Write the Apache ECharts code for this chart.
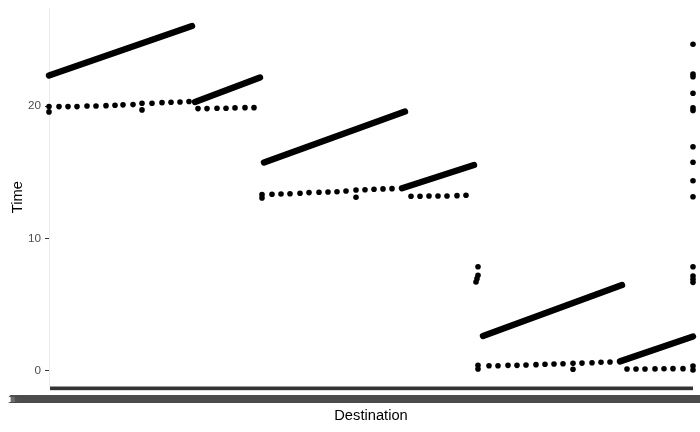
<!DOCTYPE html>
<html><head><meta charset="utf-8">
<script src="https://cdn.jsdelivr.net/npm/echarts@6/dist/echarts.min.js"></script>
<style>html,body{margin:0;padding:0;background:#fff}#c{width:700px;height:432px}</style>
</head><body><div id="c"></div>
<script>
// Destination index (category position 0..644) and Time values
const destCount = 645;
const yTicks = [0, 10, 20];

// dense runs of points (one point per destination), given by their first and last point
const runDestStart = [0, 146, 215, 353, 434, 571];
const runDestEnd   = [143, 211, 356, 425, 573, 644];
const runTimeStart = [22.3, 20.3, 15.73, 13.78, 2.62, 0.7];
const runTimeEnd   = [26.04, 22.15, 19.58, 15.54, 6.47, 2.58];

// individual points
const pointDest = [
  0,0,10,19,28,38,47,57,66,74,84,93,93,103,113,122,131,140,
  149,158,168,177,186,196,205,
  213,213,223,232,241,251,260,270,279,288,297,307,307,316,325,334,343,
  362,371,380,389,398,408,417,
  429,429,440,449,459,468,477,487,496,505,514,524,524,533,543,552,561,
  578,587,596,606,615,624,634,
  429,429,428,427,
  644,644,644,644,644,644,644,644,644,644,644,644,644,644,644,644
];
const pointTime = [
  19.95,19.55,19.95,19.95,19.95,20.0,20.0,20.02,20.05,20.08,20.1,20.2,19.7,20.2,20.25,20.28,20.3,20.33,
  19.8,19.8,19.82,19.83,19.85,19.87,19.87,
  13.3,13.05,13.33,13.35,13.37,13.4,13.45,13.48,13.5,13.52,13.57,13.65,13.1,13.67,13.7,13.73,13.75,
  13.18,13.18,13.2,13.2,13.2,13.22,13.25,
  0.4,0.12,0.37,0.37,0.4,0.4,0.42,0.45,0.48,0.5,0.52,0.55,0.1,0.57,0.6,0.63,0.65,
  0.12,0.12,0.12,0.13,0.14,0.15,0.15,
  7.85,7.2,6.95,6.7,
  24.66,22.4,22.2,20.96,19.85,19.65,16.92,15.74,14.35,13.14,7.85,7.15,6.9,6.67,0.35,0.05
];

const FONT = 'Liberation Sans, Arial, sans-serif';
const chart = echarts.init(document.getElementById('c'), null, {renderer: 'canvas'});

const runSeries = runDestStart.map((d, i) => ({
  type: 'line',
  data: [[d, runTimeStart[i]], [runDestEnd[i], runTimeEnd[i]]],
  symbol: 'none',
  clip: true,
  lineStyle: {color: '#000', width: 6.4, cap: 'round'},
  silent: true,
  z: 3
}));

chart.setOption({
  animation: false,
  backgroundColor: '#ffffff',
  grid: {left: 49, right: 7, top: 8, bottom: 45.5, containLabel: false, outerBoundsMode: 'none'},
  xAxis: {
    type: 'value', min: 0, max: destCount - 1, interval: 1,
    name: 'Destination', nameLocation: 'middle', nameGap: 22, nameMoveOverlap: false,
    nameTextStyle: {color: '#000', fontSize: 14.7, fontFamily: FONT},
    axisLine: {show: false, onZero: false},
    axisTick: {show: true, length: 3.7, lineStyle: {color: '#333333', width: 1}},
    axisLabel: {show: true, margin: 7, color: '#4d4d4d', fontSize: 11.7, fontFamily: FONT,
      formatter: v => String(1000000000000 + v)},
    splitLine: {show: false}
  },
  yAxis: {
    type: 'value', min: -1.2, max: 27.4,
    name: 'Time', nameLocation: 'middle', nameGap: 24, nameRotate: 90, nameMoveOverlap: false,
    nameTextStyle: {color: '#000', fontSize: 14.7, fontFamily: FONT},
    axisLine: {show: true, onZero: false, lineStyle: {color: '#ebebeb', width: 1}},
    axisTick: {show: true, length: 4, lineStyle: {color: '#333333'}, customValues: yTicks},
    axisLabel: {margin: 8, color: '#4d4d4d', fontSize: 11.7, fontFamily: FONT, customValues: yTicks},
    splitLine: {show: false}
  },
  series: runSeries.concat([{
    type: 'scatter',
    data: pointDest.map((d, i) => [d, pointTime[i]]),
    symbolSize: 5.6,
    clip: true,
    itemStyle: {color: '#000', opacity: 1},
    z: 4
  }])
});
</script></body></html>
